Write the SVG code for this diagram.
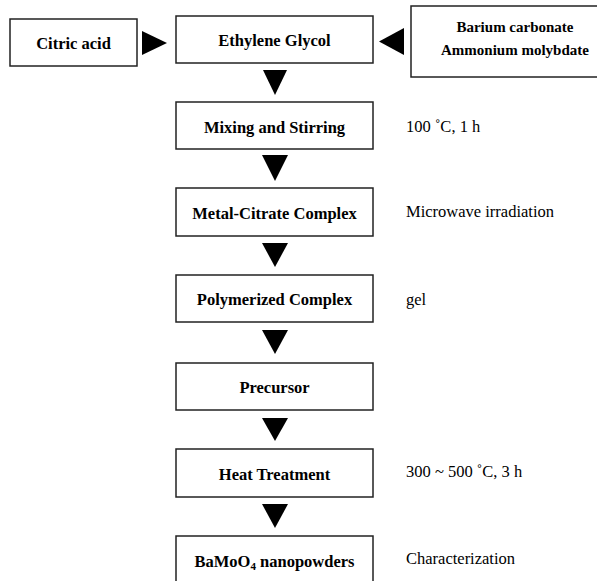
<svg xmlns="http://www.w3.org/2000/svg" width="597" height="581" viewBox="0 0 597 581">
<style>
.box{fill:#fff;stroke:#222;stroke-width:1.5}
.t{font-family:"Liberation Serif","Times New Roman",serif;font-weight:bold;font-size:16.5px;text-anchor:middle;fill:#000}
.s{font-size:15px}
.n{font-family:"Liberation Serif","Times New Roman",serif;font-size:16.5px;fill:#000}
.ar{fill:#000}
</style>
<rect width="597" height="581" fill="#fff"/>
<g id="citric"><rect class="box" x="10" y="19" width="127" height="47"/><text class="t" x="73.5" y="49">Citric acid</text></g>
<g id="eg"><rect class="box" x="176" y="16" width="197" height="47"/><text class="t" x="274.5" y="46">Ethylene Glycol</text></g>
<g id="barium"><rect class="box" x="411" y="6" width="190" height="71"/><text class="t s" x="515" y="32">Barium carbonate</text><text class="t s" x="515" y="55">Ammonium molybdate</text></g>
<g id="mixing"><rect class="box" x="176" y="102" width="197" height="47"/><text class="t" x="274.5" y="133">Mixing and Stirring</text></g>
<g id="metal"><rect class="box" x="176" y="188" width="197" height="48"/><text class="t" x="274.5" y="219">Metal-Citrate Complex</text></g>
<g id="poly"><rect class="box" x="176" y="275" width="197" height="47"/><text class="t" x="274.5" y="305">Polymerized Complex</text></g>
<g id="precursor"><rect class="box" x="176" y="363" width="197" height="47"/><text class="t" x="274.5" y="393">Precursor</text></g>
<g id="heat"><rect class="box" x="176" y="449" width="197" height="48"/><text class="t" x="274.5" y="480">Heat Treatment</text></g>
<g id="bamoo4"><rect class="box" x="176" y="536" width="197" height="60"/><text class="t" x="274.5" y="567">BaMoO<tspan font-size="11" dy="3">4</tspan><tspan dy="-3"> nanopowders</tspan></text></g>
<g id="notes">
<text class="n" x="406" y="132">100 ˚C, 1 h</text>
<text class="n" x="406" y="217">Microwave irradiation</text>
<text class="n" x="406" y="305">gel</text>
<text class="n" x="406" y="477">300 ~ 500 ˚C, 3 h</text>
<text class="n" x="406" y="564">Characterization</text>
</g>
<g id="connectors">
<polygon class="ar" points="142,31 142,55 167,43"/>
<polygon class="ar" points="404,28 404,55 379,41.5"/>
<polygon class="ar" points="263,70 287,70 275,95"/>
<polygon class="ar" points="262,155 288,155 275,181"/>
<polygon class="ar" points="262,243 288,243 275,267"/>
<polygon class="ar" points="262,330 288,330 275,354"/>
<polygon class="ar" points="262,418 288,418 275,441"/>
<polygon class="ar" points="262,504 288,504 275,528"/>
</g>
</svg>
